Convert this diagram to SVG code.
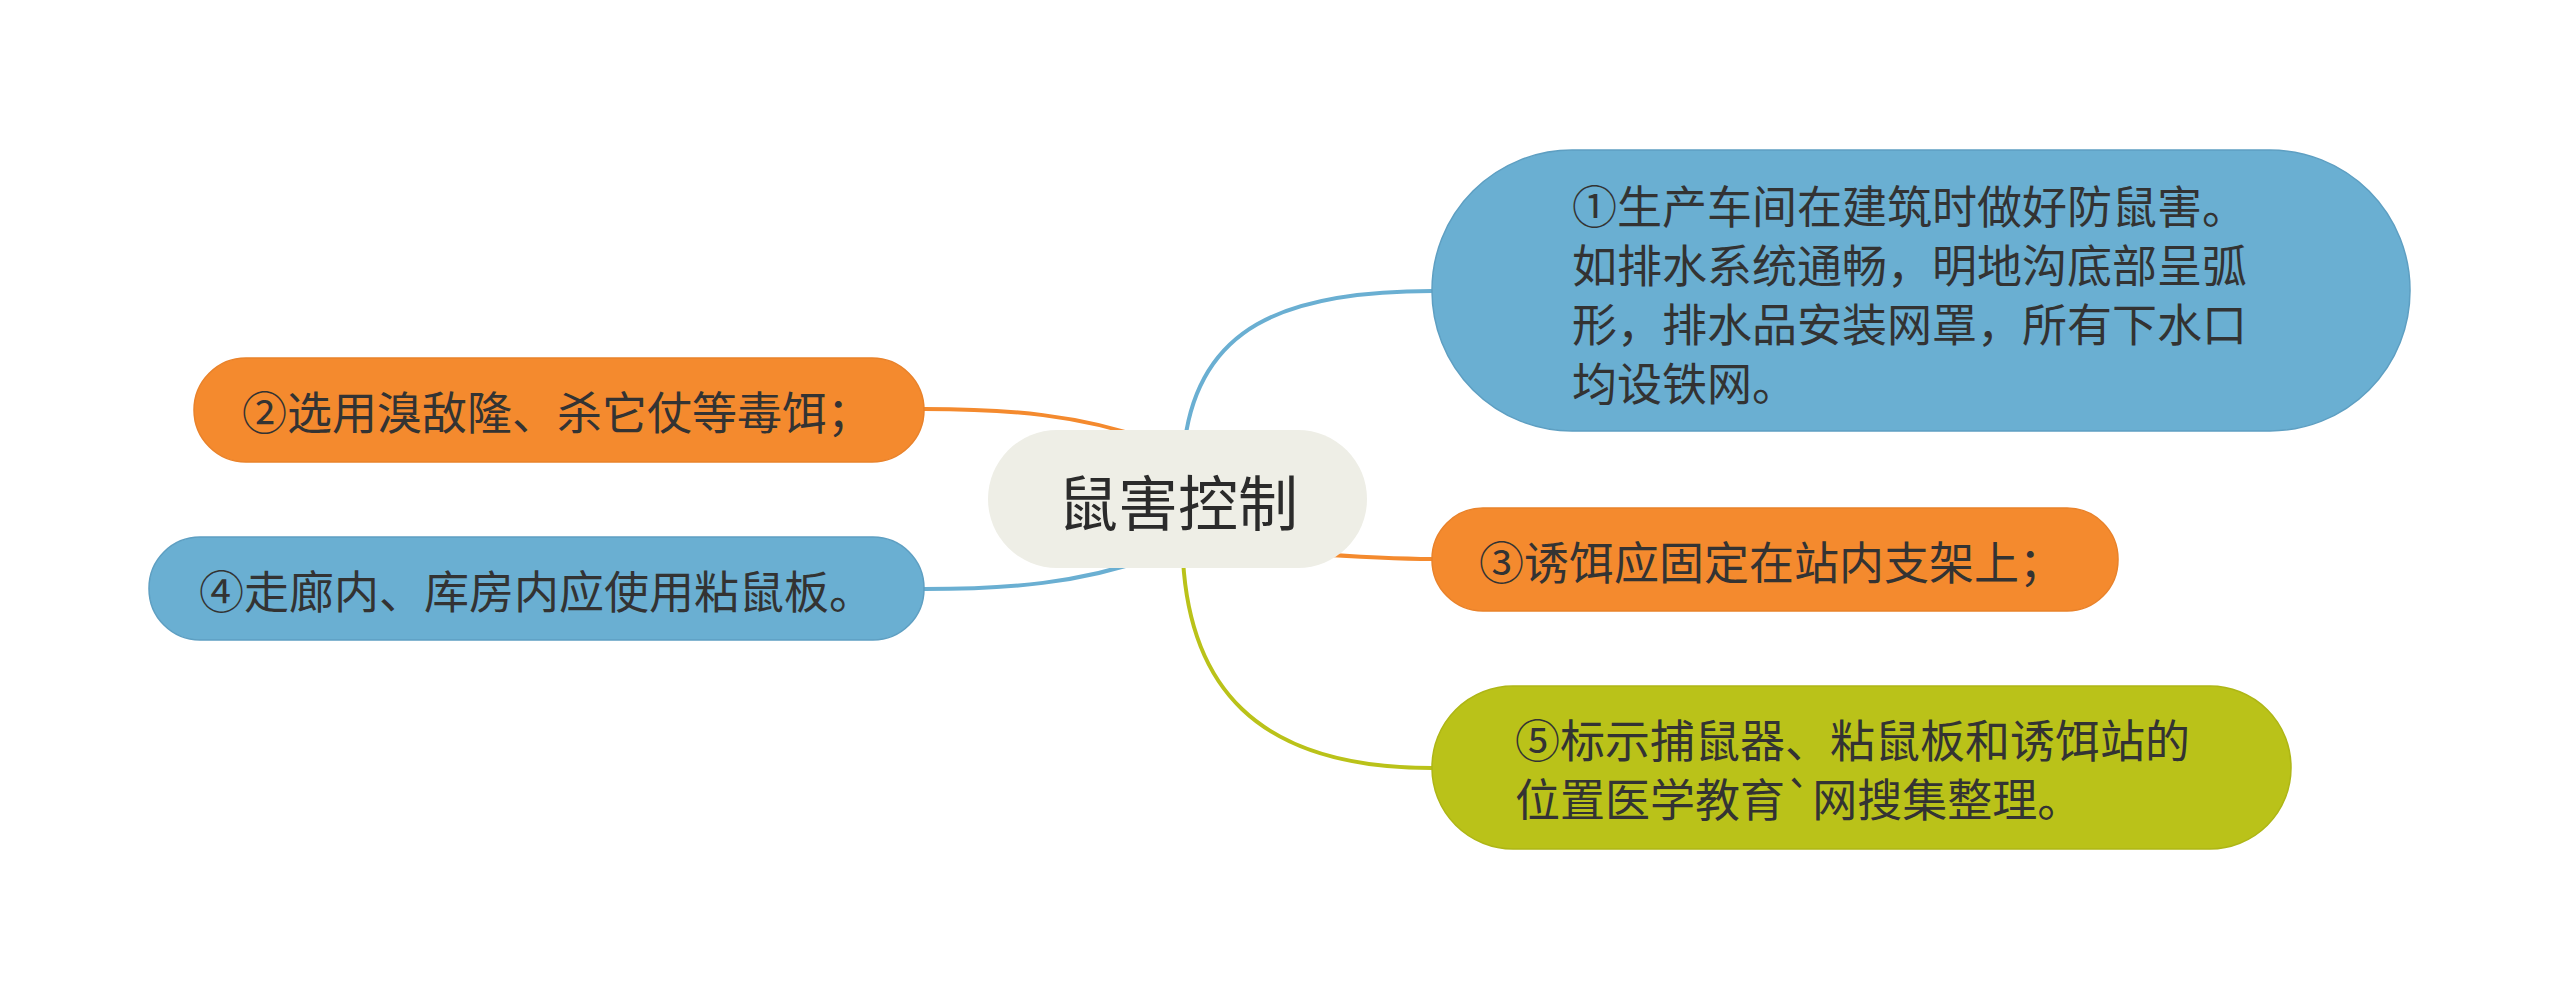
<svg xmlns="http://www.w3.org/2000/svg" width="2560" height="999" viewBox="0 0 2560 999">
<style>
.t{font-family:"Noto Sans CJK SC","Noto Sans",sans-serif;fill:#333333;dominant-baseline:central}
.n{font-size:45px}
.c{font-size:60px;text-anchor:middle;fill:#2b2b2b}
.blue{fill:#6AAFD2;stroke:#5E9FC2;stroke-width:1.5}
.orange{fill:#F48A2E;stroke:#E9822A;stroke-width:1.5}
.green{fill:#BAC219;stroke:#AEB616;stroke-width:1.5}
.ln{fill:none;stroke-width:4;stroke-linecap:round}
</style>
<rect width="2560" height="999" fill="#ffffff"/>
<g id="connectors">
<path class="ln" stroke="#6AAFD2" d="M1185 440 C1200 330 1280 291 1432 291"/>
<path class="ln" stroke="#F48A2E" d="M924 409 C1010 409 1080 415 1150 440"/>
<path class="ln" stroke="#6AAFD2" d="M924 589 C1010 589 1080 583 1150 558"/>
<path class="ln" stroke="#F48A2E" d="M1300 553 C1360 557 1400 559 1432 559"/>
<path class="ln" stroke="#BAC219" d="M1183 560 C1190 680 1250 768 1432 768"/>
</g>
<g id="center">
<rect x="988" y="430" width="379" height="138" rx="69" ry="69" fill="#EEEEE6"/>
<text class="t c" x="1178" y="499">鼠害控制</text>
</g>
<g id="node1">
<rect class="blue" x="1432" y="150" width="978" height="281" rx="140" ry="140"/>
<text class="t n" x="1572" y="204">①生产车间在建筑时做好防鼠害。</text>
<text class="t n" x="1572" y="263">如排水系统通畅，明地沟底部呈弧</text>
<text class="t n" x="1572" y="322">形，排水品安装网罩，所有下水口</text>
<text class="t n" x="1572" y="381">均设铁网。</text>
</g>
<g id="node2">
<rect class="orange" x="194" y="358" width="730" height="104" rx="52" ry="52"/>
<text class="t n" x="242" y="410">②选用溴敌隆、杀它仗等毒饵；</text>
</g>
<g id="node3">
<rect class="orange" x="1432" y="508" width="686" height="103" rx="51" ry="51"/>
<text class="t n" x="1479" y="560">③诱饵应固定在站内支架上；</text>
</g>
<g id="node4">
<rect class="blue" x="149" y="537" width="775" height="103" rx="51" ry="51"/>
<text class="t n" x="199" y="589">④走廊内、库房内应使用粘鼠板。</text>
</g>
<g id="node5">
<rect class="green" x="1432" y="686" width="859" height="163" rx="81" ry="81"/>
<text class="t n" x="1515" y="738">⑤标示捕鼠器、粘鼠板和诱饵站的</text>
<text class="t n" x="1515" y="797">位置医学教育`网搜集整理。</text>
</g>
</svg>
